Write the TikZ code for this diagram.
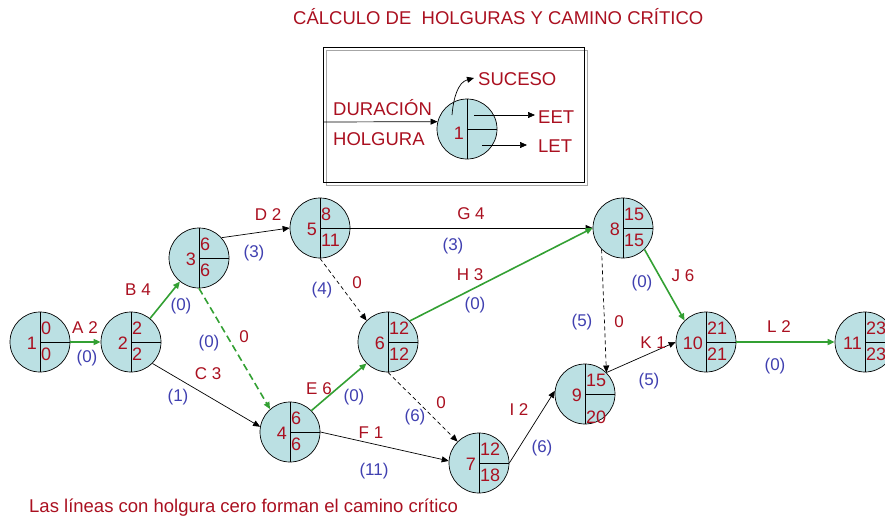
\documentclass[tikz,border=0pt]{standalone}
\usepackage{fontspec}
\setmainfont{Liberation Sans}
\usetikzlibrary{arrows.meta}

\definecolor{rojo}{RGB}{170,16,32}
\definecolor{azul}{RGB}{64,64,176}
\definecolor{verde}{RGB}{51,160,51}
\definecolor{celeste}{RGB}{187,224,227}

% suceso: nombre, x, y, numero, EET, LET (opcional: bajada del LET)
\newcommand{\evento}[7][12pt]{%
    \node[suceso] (#2) at (#3,#4) {};
    \draw (#2.north) -- (#2.south) (#2.center) -- (#2.east);
    \node[num, anchor=east] (#2-n) at ([xshift=-3pt,yshift=-1pt]#2.center) {#5};
    \node[num, anchor=west] (#2-e) at ([xshift=1pt,yshift=14pt]#2.center) {#6};
    \node[num, anchor=west] (#2-l) at ([xshift=1pt,yshift=-#1]#2.center) {#7};
}

\begin{document}
\begin{tikzpicture}[
            x=1pt, y=-1pt,
            suceso/.style={
                circle,
                draw,
                fill=celeste,
                line width=0.7pt,
                minimum size=60pt,
                inner sep=0pt
            },
            num/.style={text=rojo, inner sep=0pt, font=\fontsize{18}{20}\selectfont},
            act/.style={text=rojo, inner sep=0pt, font=\fontsize{17}{20}\selectfont},
            hol/.style={text=azul, inner sep=0pt, font=\fontsize{17}{20}\selectfont},
            texto/.style={text=rojo, inner sep=0pt, font=\fontsize{18.5}{22}\selectfont},
            flecha/.style={-{Triangle[length=7pt,width=6pt]}, line width=0.7pt},
            critica/.style={flecha, draw=verde, line width=1.6pt},
            ficticia/.style={flecha, dash pattern=on 4pt off 3pt}
        ]

            \useasboundingbox (0,0) rectangle (885,519);

            \node[texto, anchor=west] (titulo) at (293,17) {CÁLCULO DE\ \ HOLGURAS Y CAMINO CRÍTICO};

            % leyenda
            \draw[gray!70, line width=0.8pt] (326,50) rectangle (587,185);
            \draw[line width=0.8pt] (323,47) rectangle (584,182);
            \coordinate (entrada) at (323,122);
            \node[suceso] (ley) at (467,129) {};
            \draw (ley.north) -- (ley.south) (ley.center) -- (ley.east);
            \node[num, anchor=east] (ley-n) at ([xshift=-3pt,yshift=-4pt]ley.center) {1};
            \node[texto, anchor=west] (dur) at (333,108) {DURACIÓN};
            \node[texto, anchor=west] (hol) at (333,139) {HOLGURA};
            \node[texto, anchor=west] (suc) at (478,79) {SUCESO};
            \node[texto, anchor=west] (eet) at (538,117) {EET};
            \node[texto, anchor=west] (let) at (538,146) {LET};
            \draw[flecha] (entrada) -- (ley.166);
            \draw[flecha] ([xshift=-15pt,yshift=14pt]ley.center) to[out=85, in=195] ([xshift=-4pt,yshift=1pt]suc.west);
            \draw[flecha] ([xshift=7pt,yshift=14pt]ley.center) -- ([xshift=-3pt,yshift=2pt]eet.west);
            \draw[flecha] ([xshift=15pt,yshift=-16pt]ley.center) -- ([xshift=-11pt,yshift=1pt]let.west);

            % red
            \evento{n1}{40}{342}{1}{0}{0}
            \evento{n2}{131}{342}{2}{2}{2}
            \evento{n3}{199}{258}{3}{6}{6}
            \evento{n4}{290}{432}{4}{6}{6}
            \evento{n5}{320}{228}{5}{8}{11}
            \evento{n6}{388}{342}{6}{12}{12}
            \evento{n7}{479}{463}{7}{12}{18}
            \evento{n8}{623}{228}{8}{15}{15}
            \evento[23pt]{n9}{585}{394}{9}{15}{20}
            \evento{n10}{706}{342}{10}{21}{21}
            \evento{n11}{865}{342}{11}{23}{23}

            \draw[critica] (n1.east) -- (n2.west);
            \draw[critica] (n2) -- (n3);
            \draw[flecha] (n2.-45) -- (n4.170);
            \draw[critica, dash pattern=on 7pt off 4pt] (n3.south) -- (n4.131);
            \draw[flecha] (n3.42) -- (n5.west);
            \draw[flecha] (n5.east) -- (n8.west);
            \draw[ficticia] (n5.south) -- (n6.135);
            \draw[critica] (n4.45) -- (n6.225);
            \draw[flecha] (n4.east) -- (n7.176);
            \draw[critica] (n6.44) -- (n8.west);
            \draw[ficticia] (n6.south) -- (n7.135);
            \draw[flecha] (n7.east) -- (n9.174);
            \draw[ficticia] (n8.225) -- (n9.45);
            \draw[critica] (n8.-45) -- (n10.135);
            \draw[flecha] (n9.45) -- (n10.west);
            \draw[critica] (n10.east) -- (n11.west);

            % actividades y holguras
            \node[act] (tA) at (85,328) {A 2};
            \node[hol] (hA) at (87,358) {(0)};
            \node[act] (tB) at (138,290) {B 4};
            \node[hol] (hB) at (181,306) {(0)};
            \node[act] (tC) at (208,374) {C 3};
            \node[hol] (hC) at (178,397) {(1)};
            \node[act] (tD) at (268,215) {D 2};
            \node[hol] (hD) at (254,253) {(3)};
            \node[act] (t34) at (244,337) {0};
            \node[hol] (h34) at (209,343) {(0)};
            \node[act] (tE) at (319,389) {E 6};
            \node[hol] (hE) at (354,397) {(0)};
            \node[act] (tF) at (371,433) {F 1};
            \node[hol] (hF) at (374,471) {(11)};
            \node[act] (tG) at (471,214) {G 4};
            \node[hol] (hG) at (453,246) {(3)};
            \node[act] (tH) at (470,275) {H 3};
            \node[hol] (hH) at (475,305) {(0)};
            \node[act] (t56) at (357,283) {0};
            \node[hol] (h56) at (322,290) {(4)};
            \node[act] (t67) at (441,403) {0};
            \node[hol] (h67) at (415,417) {(6)};
            \node[act] (tI) at (519,410) {I 2};
            \node[hol] (hI) at (542,448) {(6)};
            \node[act] (t89) at (619,322) {0};
            \node[hol] (h89) at (582,322) {(5)};
            \node[act] (tJ) at (683,276) {J 6};
            \node[hol] (hJ) at (642,283) {(0)};
            \node[act] (tK) at (653,343) {K 1};
            \node[hol] (hK) at (649,381) {(5)};
            \node[act] (tL) at (779,327) {L 2};
            \node[hol] (hL) at (775,366) {(0)};

            \node[texto, anchor=west] (nota) at (29,508) {Las líneas con holgura cero forman el camino crítico};

        \end{tikzpicture}
\end{document}
